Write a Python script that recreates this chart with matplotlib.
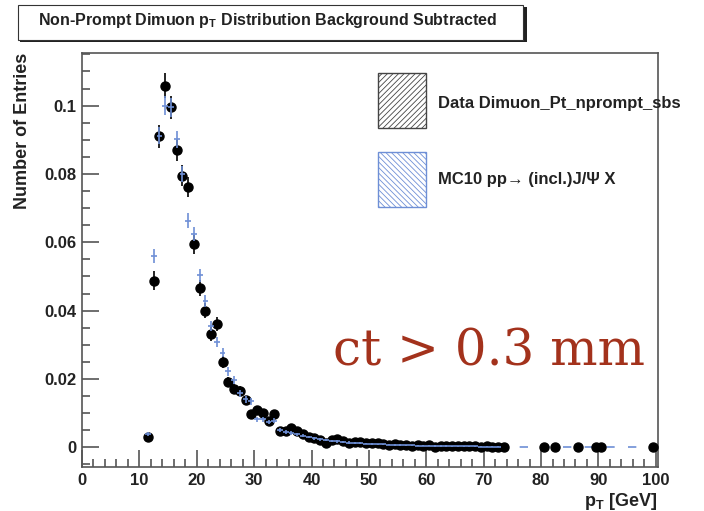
import matplotlib
matplotlib.use("Agg")
import matplotlib.pyplot as plt
from matplotlib.patches import Rectangle
from matplotlib.transforms import Bbox, TransformedBbox
from matplotlib.ticker import MultipleLocator

plt.rcParams['font.family'] = ['Liberation Sans', 'DejaVu Sans']
plt.rcParams['mathtext.fontset'] = 'custom'
plt.rcParams['mathtext.rm'] = 'Liberation Sans:bold'
plt.rcParams['mathtext.it'] = 'Liberation Sans:bold'
plt.rcParams['hatch.linewidth'] = 0.6

# ---------------- data ----------------
pt_bins = [11.5, 12.5, 13.5, 14.5, 15.5, 16.5, 17.5, 18.5, 19.5, 20.5,
           21.5, 22.5, 23.5, 24.5, 25.5, 26.5, 27.5, 28.5, 29.5, 30.5,
           31.5, 32.5, 33.5, 34.5, 35.5, 36.5, 37.5, 38.5, 39.5, 40.5,
           41.5, 42.5, 43.5, 44.5, 45.5, 46.5, 47.5, 48.5, 49.5, 50.5,
           51.5, 52.5, 53.5, 54.5, 55.5, 56.5, 57.5, 58.5, 59.5, 60.5,
           61.5, 62.5, 63.5, 64.5, 65.5, 66.5, 67.5, 68.5, 69.5, 70.5,
           71.5, 72.5]

data_y = [0.0031, 0.0488, 0.0910, 0.1058, 0.0995, 0.0870, 0.0795, 0.0762, 0.0594, 0.0467,
          0.0400, 0.0332, 0.0360, 0.0249, 0.0192, 0.0172, 0.0164, 0.0137, 0.0096, 0.0110,
          0.0100, 0.0078, 0.0098, 0.0047, 0.0047, 0.0057, 0.0047, 0.0040, 0.0030, 0.0027,
          0.0022, 0.0013, 0.0022, 0.0024, 0.0019, 0.0013, 0.0016, 0.0015, 0.0014, 0.0013,
          0.0012, 0.0009, 0.0008, 0.0009, 0.0007, 0.0006, 0.0004, 0.0007, 0.0005, 0.0006,
          0.0002, 0.0004, 0.0005, 0.0004, 0.0003, 0.0005, 0.0003, 0.0004, 0.0002, 0.0003,
          0.0002, 0.0002]

data_err = [0.0008, 0.0027, 0.0033, 0.0036, 0.0034, 0.0032, 0.0031, 0.0030, 0.0027, 0.0024,
            0.0022, 0.0020, 0.0021, 0.0017, 0.0015, 0.0014, 0.0014, 0.0013, 0.0011, 0.0011,
            0.0011, 0.0010, 0.0010, 0.0008, 0.0007, 0.0008, 0.0007, 0.0006, 0.0006, 0.0005,
            0.0005, 0.0004, 0.0005, 0.0005, 0.0004, 0.0004, 0.0004, 0.0004, 0.0004, 0.0004,
            0.0003, 0.0003, 0.0003, 0.0003, 0.0003, 0.0003, 0.0002, 0.0003, 0.0002, 0.0003,
            0.0002, 0.0002, 0.0002, 0.0002, 0.0002, 0.0002, 0.0002, 0.0002, 0.0002, 0.0002,
            0.0002, 0.0002]

mc_y = [0.0038, 0.0560, 0.0912, 0.1000, 0.0995, 0.0902, 0.0800, 0.0663, 0.0624, 0.0503,
        0.0428, 0.0355, 0.0309, 0.0277, 0.0223, 0.0198, 0.0158, 0.0140, 0.0135, 0.0082,
        0.0082, 0.0074, 0.0078, 0.0050, 0.0046, 0.0042, 0.0038, 0.0034, 0.0030, 0.0026,
        0.0023, 0.0020, 0.0019, 0.0017, 0.0016, 0.0014, 0.0013, 0.0012, 0.0011, 0.0010,
        0.0009, 0.0009, 0.0008, 0.0007, 0.0007, 0.0006, 0.0006, 0.0005, 0.0005, 0.0005,
        0.0004, 0.0004, 0.0004, 0.0003, 0.0003, 0.0003, 0.0003, 0.0003, 0.0002, 0.0002,
        0.0002, 0.0002]

mc_err = [0.0006, 0.0020, 0.0025, 0.0027, 0.0027, 0.0025, 0.0024, 0.0022, 0.0021, 0.0019,
          0.0018, 0.0016, 0.0015, 0.0014, 0.0013, 0.0012, 0.0011, 0.0010, 0.0010, 0.0008,
          0.0008, 0.0007, 0.0007, 0.0006, 0.0006, 0.0005, 0.0005, 0.0005, 0.0004, 0.0004,
          0.0004, 0.0003, 0.0003, 0.0003, 0.0003, 0.0003, 0.0003, 0.0003, 0.0002, 0.0002,
          0.0002, 0.0002, 0.0002, 0.0002, 0.0002, 0.0002, 0.0002, 0.0002, 0.0002, 0.0002,
          0.0002, 0.0002, 0.0002, 0.0002, 0.0002, 0.0002, 0.0002, 0.0002, 0.0001, 0.0001,
          0.0001, 0.0001]

tail_pt = [73.5, 80.5, 82.5, 86.5, 89.5, 90.5, 99.5]
tail_y = [0.0001, 0.0001, 0.0001, 0.0001, 0.0001, 0.0001, 0.0001]

mc_zero_x = [72.5, 100.0]
mc_zero_y = [0.0, 0.0]

x_ticks = [0, 10, 20, 30, 40, 50, 60, 70, 80, 90, 100]
y_ticks = [0, 0.02, 0.04, 0.06, 0.08, 0.1]
y_tick_labels = ['0', '0.02', '0.04', '0.06', '0.08', '0.1']

BLUE = '#6e8fd6'
AXC = '#555555'
TXT = '#222222'

fig = plt.figure(figsize=(7.04, 5.11), dpi=100)
ax = fig.add_axes([0.1165, 0.0861, 0.8175, 0.8102])

ax.errorbar(pt_bins, data_y, yerr=data_err, fmt='o', color='black', ms=6.5,
            elinewidth=1.2, capsize=0, zorder=3)
ax.errorbar(tail_pt, tail_y, fmt='o', color='black', ms=6.5, zorder=3)
ax.plot(mc_zero_x, mc_zero_y, color=BLUE, lw=1.2, ls=(0, (5, 8)), zorder=2)
ax.errorbar(pt_bins, mc_y, yerr=mc_err, xerr=0.5, fmt='none', ecolor=BLUE,
            elinewidth=1.2, capsize=0, zorder=4)

ax.set_xlim(0, 100.3)
ax.set_ylim(-0.00577, 0.1154)
ax.set_xticks(x_ticks)
ax.set_xticklabels([str(v) for v in x_ticks])
ax.set_yticks(y_ticks)
ax.set_yticklabels(y_tick_labels)
ax.xaxis.set_minor_locator(MultipleLocator(2))
ax.yaxis.set_minor_locator(MultipleLocator(0.005))
ax.tick_params(which='both', direction='in', top=False, right=False, color=AXC,
               width=1.2)
ax.tick_params(which='major', length=12, labelsize=12, pad=4)
ax.tick_params(which='minor', length=6)
for lab in ax.get_xticklabels() + ax.get_yticklabels():
    lab.set_fontweight('bold')
    lab.set_color(TXT)
for sp in ax.spines.values():
    sp.set_color(AXC)
    sp.set_linewidth(1.2)

ax.text(-0.104, 1.0, 'Number of Entries', transform=ax.transAxes, rotation=90,
        ha='center', va='top', fontsize=13, fontweight='bold', color=TXT)
ax.text(1.0, -0.058, 'p$_\\mathregular{T}$ [GeV]', transform=ax.transAxes,
        ha='right', va='top', fontsize=13, fontweight='bold', color=TXT)

# legend-like boxes
r1 = Rectangle((0.514, 0.820), 0.083, 0.132, transform=ax.transAxes, facecolor='white',
               edgecolor='#444444', hatch='//////', lw=1.0, zorder=5)
r1.set_clip_on(False)
ax.add_patch(r1)
r2 = Rectangle((0.514, 0.629), 0.083, 0.132, transform=ax.transAxes, facecolor='white',
               edgecolor=BLUE, hatch='\\\\\\\\\\\\', lw=1.0, zorder=5)
r2.set_clip_on(False)
ax.add_patch(r2)

clip = TransformedBbox(Bbox([[0, 0], [681 / 704, 1]]), fig.transFigure)
t1 = fig.text(438 / 704, 1 - 103 / 511, 'Data Dimuon_Pt_nprompt_sbs', ha='left',
              va='center', fontsize=12, fontweight='bold', color=TXT)
t1.set_clip_box(clip)
t1.set_clip_on(True)
fig.text(438 / 704, 1 - 179 / 511, 'MC10 pp\u2192 (incl.)J/\u03a8 X', ha='left',
         va='center', fontsize=12, fontweight='bold', color=TXT)

fig.text(489 / 704, 1 - 352 / 511, 'ct > 0.3 mm', ha='center', va='center',
         fontsize=36, color='#a3321c', family=['DejaVu Serif'])

# title box with shadow
sh = Rectangle((20 / 704, 1 - 42 / 511), 507 / 704, 35 / 511, transform=fig.transFigure,
               facecolor='#222222', edgecolor='none')
fig.patches.append(sh)
tb = Rectangle((18 / 704, 1 - 40 / 511), 505 / 704, 35 / 511, transform=fig.transFigure,
               facecolor='white', edgecolor='#333333', lw=0.8)
fig.patches.append(tb)
fig.text(267 / 704, 1 - 21 / 511,
         'Non-Prompt Dimuon p$_\\mathregular{T}$ Distribution Background Subtracted',
         ha='center', va='center', fontsize=11.5, fontweight='bold', color=TXT)

fig.savefig('out.png', dpi=100, facecolor='white')
